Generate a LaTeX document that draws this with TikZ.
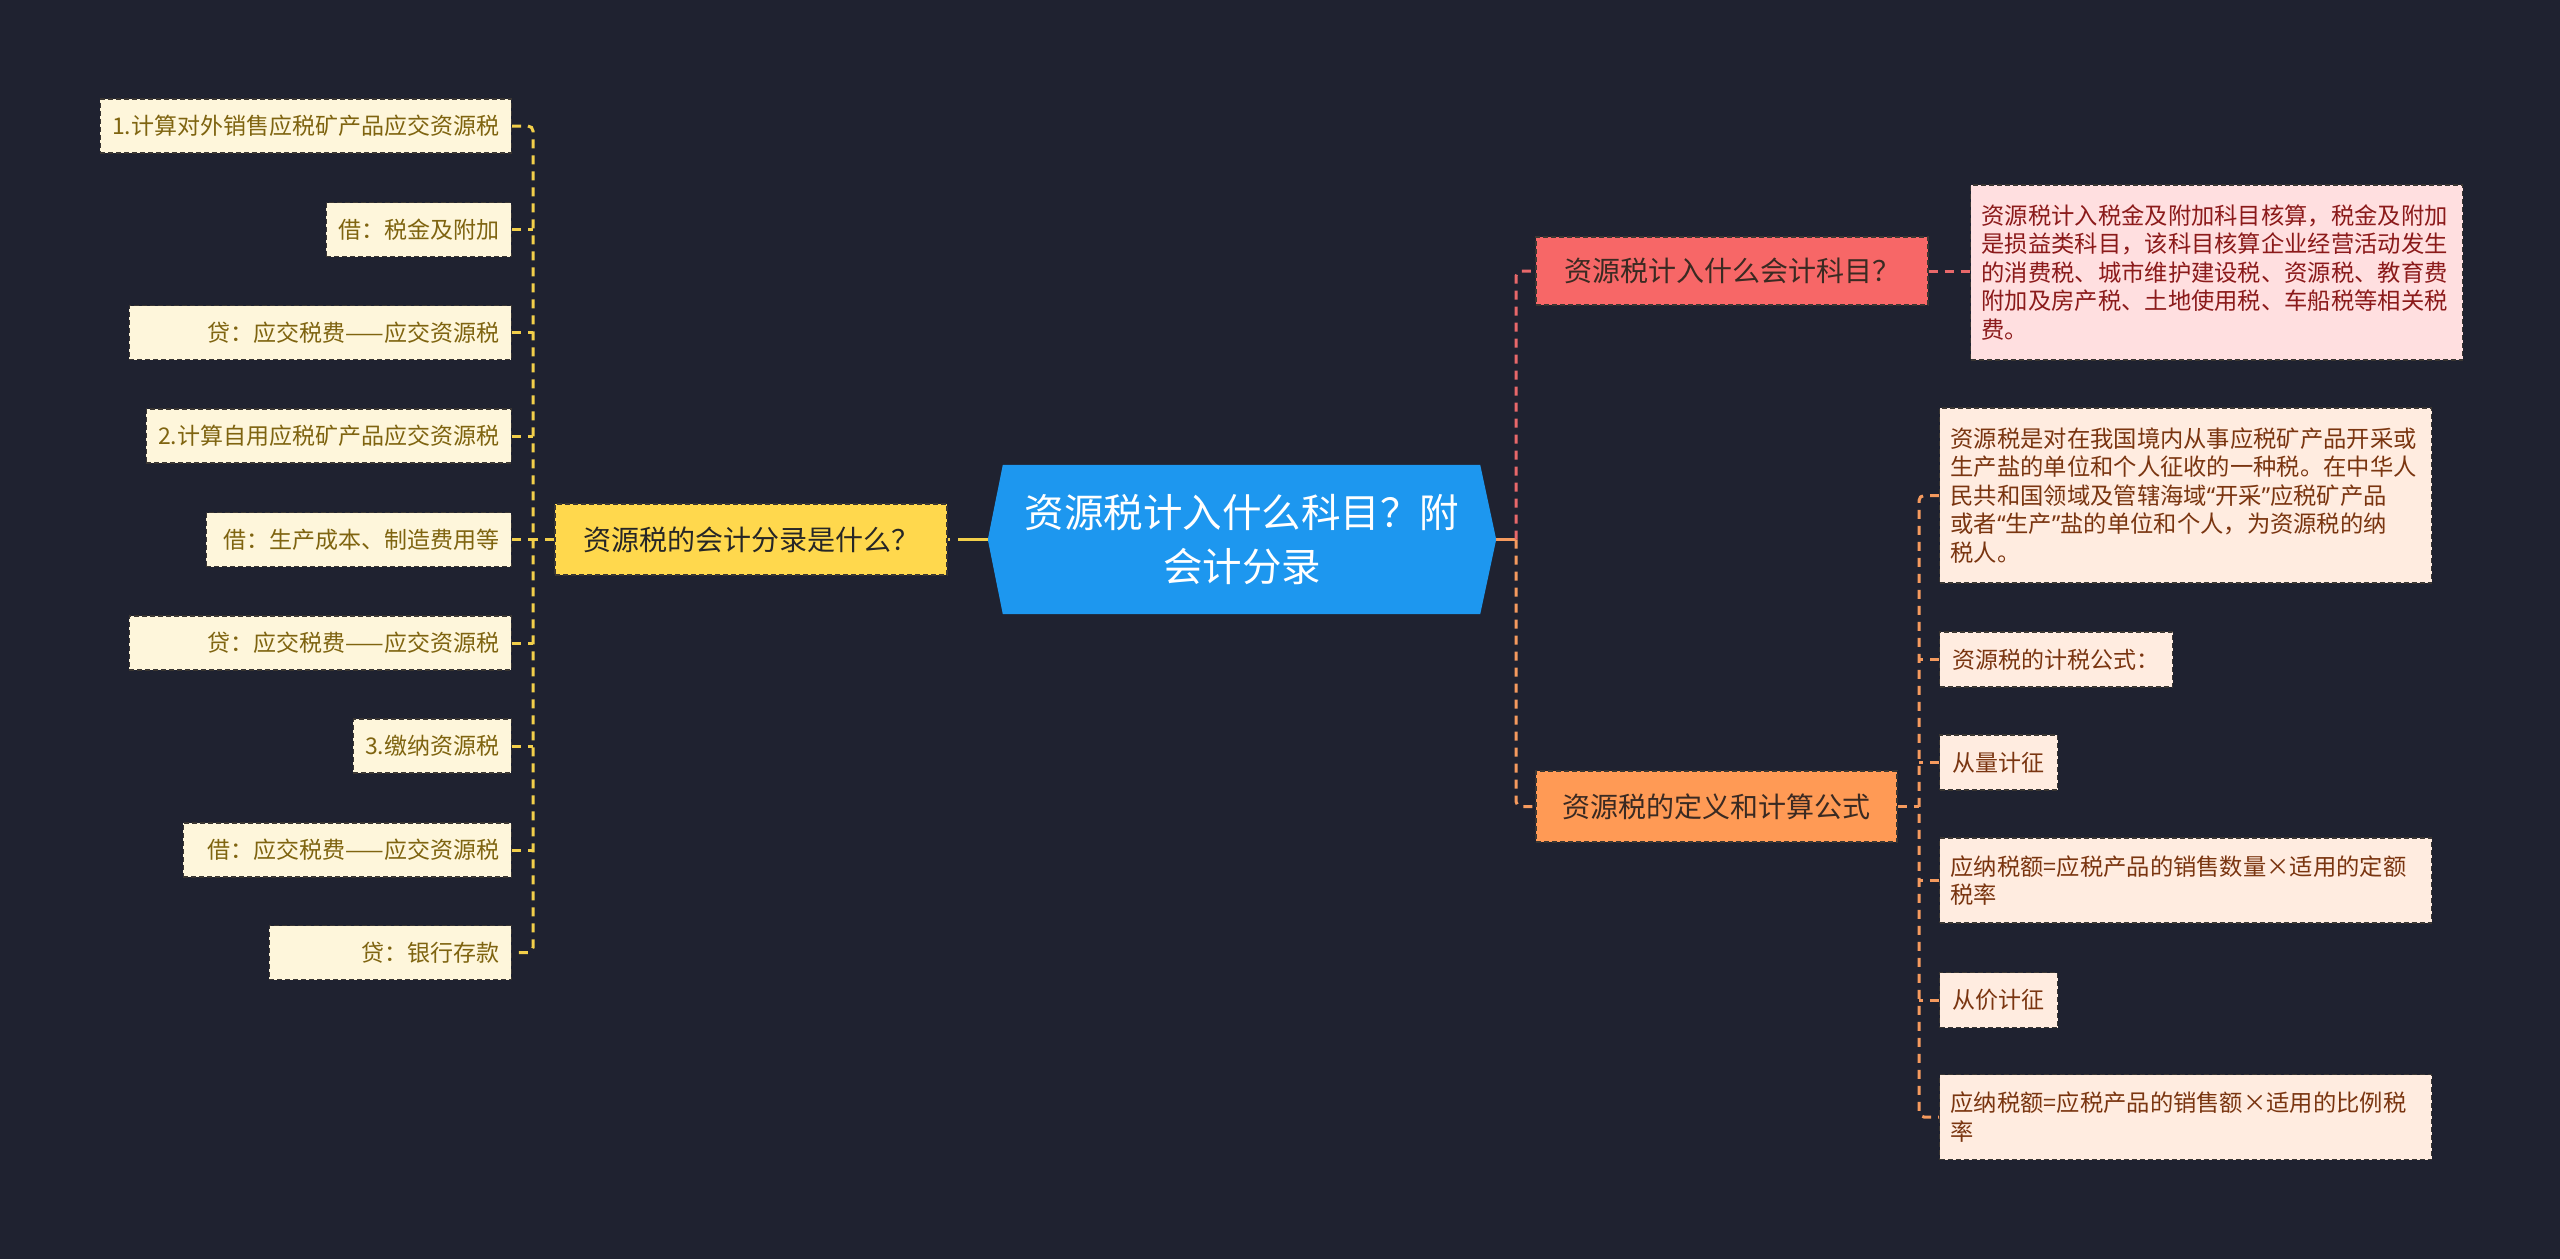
\documentclass[tikz,border=0pt]{standalone}
\usepackage{fontspec}
\setmainfont{Noto Sans CJK SC}
\newfontfamily\latinq{Noto Sans}
\newcommand{\myLq}{{\latinq “}}
\newcommand{\myRq}{{\latinq ”}}
\usetikzlibrary{calc}
\definecolor{bg}{HTML}{1F2230}
\definecolor{cblue}{HTML}{1D97EF}
\definecolor{yel}{HTML}{FFD84D}
\definecolor{yelline}{HTML}{F2CF4A}
\definecolor{rednode}{HTML}{F76767}
\definecolor{redline}{HTML}{E8686A}
\definecolor{orgnode}{HTML}{FF9A55}
\definecolor{orgline}{HTML}{F59A5E}
\definecolor{cream}{HTML}{FEF6DB}
\definecolor{creamtext}{HTML}{7F6410}
\definecolor{pink}{HTML}{FFDFE0}
\definecolor{pinktext}{HTML}{8B1A1A}
\definecolor{peach}{HTML}{FFECE0}
\definecolor{peachtext}{HTML}{7A3510}
\definecolor{boxedge}{HTML}{3A3632}
\definecolor{darktext}{HTML}{3A2A22}
\tikzset{
  boxbase/.style={draw=boxedge, line width=1.3pt, dash pattern=on 5pt off 3pt},
  leafL/.style={boxbase, fill=cream, text=creamtext, inner xsep=12pt, inner ysep=0pt,
    minimum height=54pt, anchor=east, font=\fontsize{23}{28}\selectfont},
  leafLw/.style={leafL, text width=#1, align=right},
  leafR/.style={boxbase, fill=peach, text=peachtext, inner xsep=13pt, inner ysep=0pt,
    minimum height=55pt, anchor=west, font=\fontsize{23}{28}\selectfont},
  leafRwide/.style={leafR, inner xsep=11pt, text width=470pt, align=left,
    font=\fontsize{23.3}{28.5}\selectfont},
  mainbox/.style={boxbase, minimum height=70pt, text=darktext,
    font=\fontsize{28}{34}\selectfont},
  conn/.style={line width=3pt, dash pattern=on 9pt off 7pt},
}
\begin{document}
\begin{tikzpicture}[x=1pt,y=-1pt]
\fill[bg] (0,0) rectangle (2560,1259);
\useasboundingbox (0,0) rectangle (2560,1259);

% center
\node[minimum width=508pt, minimum height=149pt, inner sep=0pt] (ctr) at (1242,539.5) {};
\fill[cblue] ($(ctr.north west)+(15,0)$) -- ($(ctr.north east)+(-16,0)$) -- (ctr.east)
  -- ($(ctr.south east)+(-16,0)$) -- ($(ctr.south west)+(15,0)$) -- (ctr.west) -- cycle;
\node[text=white, align=center, font=\fontsize{39.5}{54}\selectfont] (ctrtext) at (ctr) {资源税计入什么科目？附\\会计分录};

% left branch
\node[mainbox, fill=yel, minimum width=392pt, minimum height=71pt, text=black!85] (yl) at (751,539.5) {资源税的会计分录是什么？};

\node[leafL] (l1) at (512,126) {1.计算对外销售应税矿产品应交资源税};
\node[leafL] (l2) at (512,229.5) {借：税金及附加};
\node[leafLw=358pt] (l3) at (512,332.5) {贷：应交税费——应交资源税};
\node[leafL] (l4) at (512,436) {2.计算自用应税矿产品应交资源税};
\node[leafLw=281pt] (l5) at (512,539.5) {借：生产成本、制造费用等};
\node[leafLw=358pt] (l6) at (512,643) {贷：应交税费——应交资源税};
\node[leafL] (l7) at (512,746) {3.缴纳资源税};
\node[leafLw=304pt] (l8) at (512,850) {借：应交税费——应交资源税};
\node[leafLw=218pt] (l9) at (512,952.5) {贷：银行存款};
\coordinate (lbus) at (533,539.5);

\draw[yelline, line width=3pt, dash pattern=on 30pt off 8pt] (ctr.west) -- (yl.east);
\draw[yelline, conn] (yl.west) -- (lbus);
\draw[yelline, conn, rounded corners=5pt] (l1.east) -- (l1.east -| lbus) -- (l9.east -| lbus) -- (l9.east);
\foreach \n in {l2,l3,l4,l5,l6,l7,l8}{
  \draw[yelline, conn] (\n.east) -- (\n.east -| lbus);
}

% right branch
\coordinate (rbus) at (1516,539.5);
\node[mainbox, fill=rednode, minimum width=392pt, minimum height=68pt] (rd) at (1732,271) {资源税计入什么会计科目？};
\node[mainbox, fill=orgnode, minimum width=361pt, minimum height=71pt] (og) at (1716.5,806.5) {资源税的定义和计算公式};

\draw[orgline, line width=3pt] (ctr.east) -- (rbus);
\draw[redline, conn, rounded corners=5pt] (rbus) -- (rd.west -| rbus) -- (rd.west);
\draw[orgline, conn, rounded corners=5pt] (rbus) -- (og.west -| rbus) -- (og.west);

\node[boxbase, fill=pink, text=pinktext, anchor=west, inner xsep=11pt, inner ysep=0pt,
  text width=470pt, align=left, minimum height=175pt, font=\fontsize{23.3}{28.5}\selectfont]
  (pk) at (1970,272.5) {资源税计入税金及附加科目核算，税金及附加\\是损益类科目，该科目核算企业经营活动发生\\的消费税、城市维护建设税、资源税、教育费\\附加及房产税、土地使用税、车船税等相关税\\费。};
\draw[redline, conn] (rd.east) -- (pk.west |- rd.east);

\node[leafRwide, minimum height=175pt] (r1) at (1939,495.5) {资源税是对在我国境内从事应税矿产品开采或\\生产盐的单位和个人征收的一种税。在中华人\\民共和国领域及管辖海域\myLq 开采\myRq 应税矿产品\\或者\myLq 生产\myRq 盐的单位和个人，为资源税的纳\\税人。};
\node[leafR] (r2) at (1939,659.5) {资源税的计税公式：};
\node[leafR] (r3) at (1939,762.5) {从量计征};
\node[leafRwide, minimum height=85pt] (r4) at (1939,880.5) {应纳税额=应税产品的销售数量×适用的定额\\税率};
\node[leafR] (r5) at (1939,1000) {从价计征};
\node[leafRwide, minimum height=85pt] (r6) at (1939,1117) {应纳税额=应税产品的销售额×适用的比例税\\率};
\coordinate (obus) at (1919,806.5);

\draw[orgline, conn] (og.east) -- (obus);
\draw[orgline, conn, rounded corners=5pt] (r1.west) -- (r1.west -| obus) -- (r6.west -| obus) -- (r6.west);
\foreach \n in {r2,r3,r4,r5}{
  \draw[orgline, conn] (\n.west) -- (\n.west -| obus);
}
\end{tikzpicture}
\end{document}
